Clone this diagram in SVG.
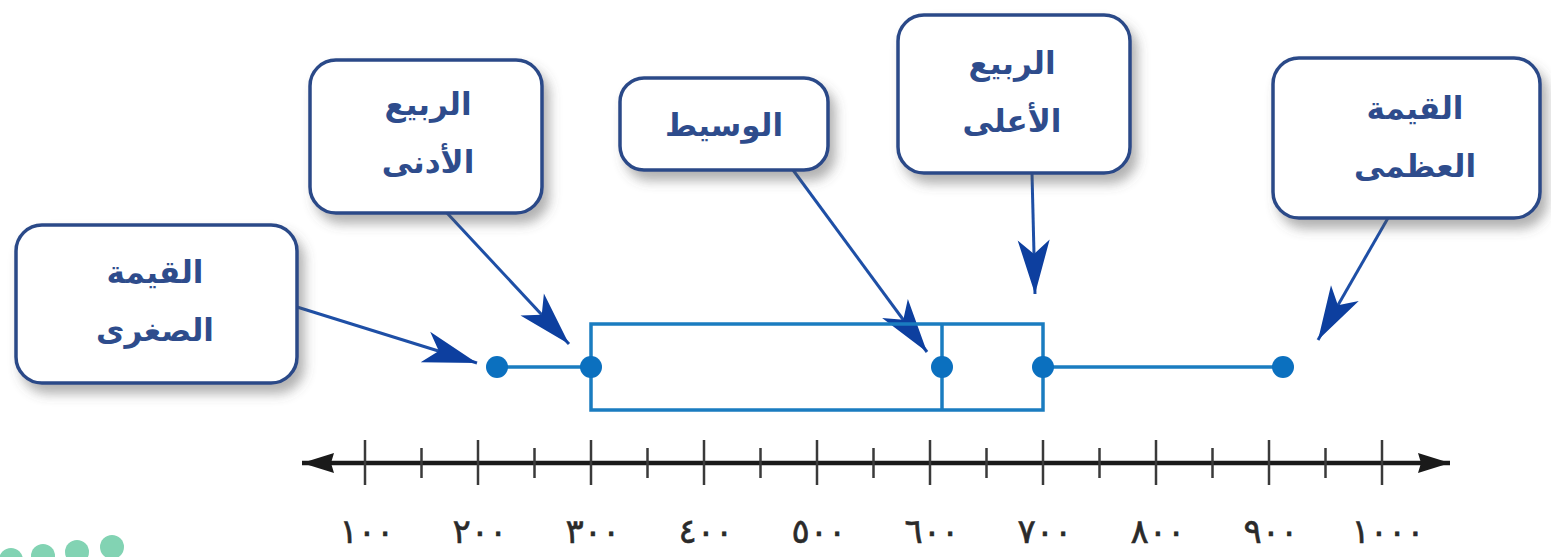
<svg xmlns="http://www.w3.org/2000/svg" width="1551" height="557" viewBox="0 0 1551 557">
<style>
.cb{fill:#ffffff;stroke:#2c4a88;stroke-width:3.5;filter:url(#sh)}
.ct{font-family:"DejaVu Sans",sans-serif;font-weight:bold;font-size:31px;fill:#2e4c8c;text-anchor:middle}
.conn{stroke:#1e4fa6;stroke-width:3;fill:none;marker-end:url(#ah)}
.bp{stroke:#1a7cc0;stroke-width:3.5;fill:none}
.dot{fill:#0b70bf}
.maj{stroke:#3a3a3a;stroke-width:2.5}
.min{stroke:#3a3a3a;stroke-width:2.5}
.nl{font-family:"DejaVu Sans",sans-serif;font-size:34px;fill:#2a2a2a;text-anchor:middle;letter-spacing:3px;stroke:#2a2a2a;stroke-width:0.6}
.gd{fill:#82d3b3}
</style>
<defs>
<filter id="sh" x="-20%" y="-20%" width="150%" height="160%">
<feDropShadow dx="6" dy="9" stdDeviation="6" flood-color="#555" flood-opacity="0.45"/>
</filter>
<marker id="ah" markerUnits="userSpaceOnUse" markerWidth="64" markerHeight="44" viewBox="-58 -22 64 44" refX="0" refY="0" orient="auto">
<path d="M0,0 L-54,-16 L-40,0 L-54,16 Z" fill="#0d3f9f"/>
</marker>
<marker id="nlR" markerUnits="userSpaceOnUse" markerWidth="40" markerHeight="26" viewBox="-36 -13 40 26" refX="0" refY="0" orient="auto">
<path d="M0,0 L-32,-10 L-29,0 L-32,10 Z" fill="#1a1a1a"/>
</marker>
<marker id="nlL" markerUnits="userSpaceOnUse" markerWidth="40" markerHeight="26" viewBox="-36 -13 40 26" refX="0" refY="0" orient="auto-start-reverse">
<path d="M0,0 L-32,-10 L-29,0 L-32,10 Z" fill="#1a1a1a"/>
</marker>
</defs>
<rect width="1551" height="557" fill="#ffffff"/>

<g id="connectors">
<line class="conn" x1="297" y1="307" x2="477" y2="363"/>
<line class="conn" x1="447" y1="213" x2="569" y2="344"/>
<line class="conn" x1="793" y1="170" x2="927" y2="352"/>
<line class="conn" x1="1032" y1="173" x2="1035" y2="294"/>
<line class="conn" x1="1388" y1="218" x2="1318" y2="340"/>
</g>

<g id="node-min">
<rect class="cb" x="16" y="225" width="281" height="158" rx="26"/>
<text class="ct" x="155" y="283" direction="rtl">القيمة</text>
<text class="ct" x="155" y="341" direction="rtl">الصغرى</text>
</g>
<g id="node-q1">
<rect class="cb" x="310" y="60" width="232" height="153" rx="26"/>
<text class="ct" x="428" y="115" direction="rtl">الربيع</text>
<text class="ct" x="428" y="173" direction="rtl">الأدنى</text>
</g>
<g id="node-median">
<rect class="cb" x="620" y="78" width="208" height="92" rx="24"/>
<text class="ct" x="724" y="136" direction="rtl">الوسيط</text>
</g>
<g id="node-q3">
<rect class="cb" x="898" y="15" width="232" height="158" rx="26"/>
<text class="ct" x="1012" y="74" direction="rtl">الربيع</text>
<text class="ct" x="1012" y="132" direction="rtl">الأعلى</text>
</g>
<g id="node-max">
<rect class="cb" x="1273" y="58" width="267" height="160" rx="26"/>
<text class="ct" x="1415" y="119" direction="rtl">القيمة</text>
<text class="ct" x="1415" y="177" direction="rtl">العظمى</text>
</g>

<g id="boxplot">
<line class="bp" x1="497" y1="367" x2="591" y2="367"/>
<line class="bp" x1="1043" y1="367" x2="1283" y2="367"/>
<rect class="bp" x="591" y="324" width="452" height="86"/>
<line class="bp" x1="942" y1="324" x2="942" y2="410"/>
<circle class="dot" cx="497" cy="367" r="11"/>
<circle class="dot" cx="591" cy="367" r="11"/>
<circle class="dot" cx="942" cy="367" r="11"/>
<circle class="dot" cx="1043" cy="367" r="11"/>
<circle class="dot" cx="1283" cy="367" r="11"/>
</g>

<g id="number-line">
<line x1="302" y1="463" x2="1450" y2="463" stroke="#1a1a1a" stroke-width="4.5" marker-start="url(#nlL)" marker-end="url(#nlR)"/>
<g class="maj">
<line x1="365" y1="440" x2="365" y2="485"/>
<line x1="478" y1="440" x2="478" y2="485"/>
<line x1="591" y1="440" x2="591" y2="485"/>
<line x1="704" y1="440" x2="704" y2="485"/>
<line x1="817" y1="440" x2="817" y2="485"/>
<line x1="930" y1="440" x2="930" y2="485"/>
<line x1="1043" y1="440" x2="1043" y2="485"/>
<line x1="1156" y1="440" x2="1156" y2="485"/>
<line x1="1269" y1="440" x2="1269" y2="485"/>
<line x1="1382" y1="440" x2="1382" y2="485"/>
</g>
<g class="min">
<line x1="421.5" y1="448" x2="421.5" y2="478"/>
<line x1="534.5" y1="448" x2="534.5" y2="478"/>
<line x1="647.5" y1="448" x2="647.5" y2="478"/>
<line x1="760.5" y1="448" x2="760.5" y2="478"/>
<line x1="873.5" y1="448" x2="873.5" y2="478"/>
<line x1="986.5" y1="448" x2="986.5" y2="478"/>
<line x1="1099.5" y1="448" x2="1099.5" y2="478"/>
<line x1="1212.5" y1="448" x2="1212.5" y2="478"/>
<line x1="1325.5" y1="448" x2="1325.5" y2="478"/>
</g>
<text class="nl" x="367" y="543">١٠٠</text>
<text class="nl" x="480" y="543">٢٠٠</text>
<text class="nl" x="593" y="543">٣٠٠</text>
<text class="nl" x="706" y="543">٤٠٠</text>
<text class="nl" x="819" y="543">٥٠٠</text>
<text class="nl" x="932" y="543">٦٠٠</text>
<text class="nl" x="1045" y="543">٧٠٠</text>
<text class="nl" x="1158" y="543">٨٠٠</text>
<text class="nl" x="1271" y="543">٩٠٠</text>
<text class="nl" x="1388" y="543">١٠٠٠</text>
</g>

<g id="decoration">
<circle class="gd" cx="11" cy="560" r="12"/>
<circle class="gd" cx="43" cy="556" r="12"/>
<circle class="gd" cx="77" cy="552" r="12"/>
<circle class="gd" cx="112" cy="547" r="12"/>
</g>
</svg>
